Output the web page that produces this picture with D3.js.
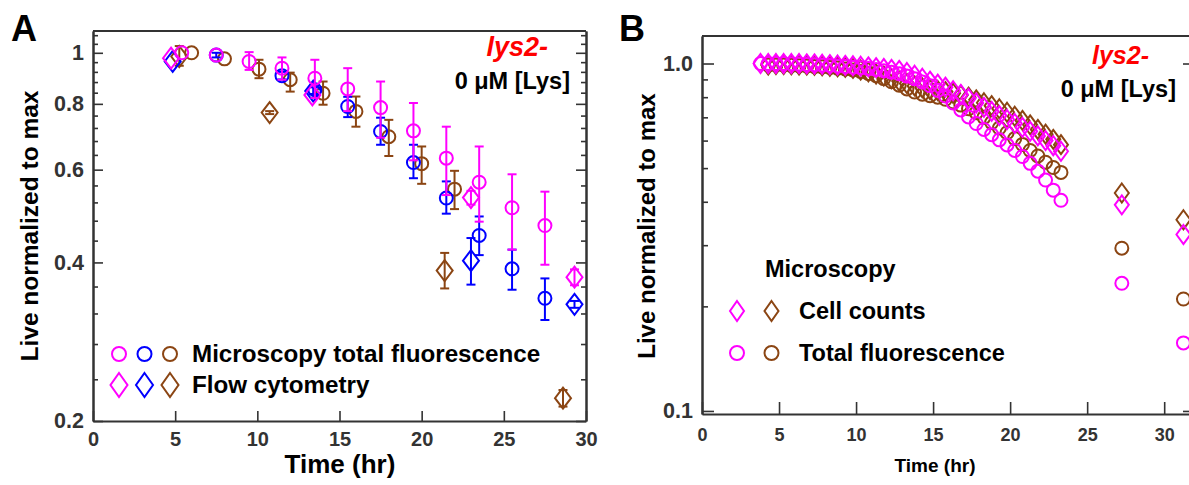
<!DOCTYPE html>
<html>
<head>
<meta charset="utf-8">
<script src="https://cdn.jsdelivr.net/npm/d3@7"></script>
<style>
  body { margin: 0; background: #fff; }
  svg { display: block; }
  text { font-family: "Liberation Sans", Arial, Helvetica, sans-serif; font-weight: bold; }
</style>
</head>
<body>
<svg id="chart" width="1189" height="485"></svg>
<script>
// ---------------- Panel A data: mean and error range per time point ----------------
const aMicroMagentaT  = [5.4, 7.5, 9.5, 11.5, 13.5, 15.5, 17.5, 19.5, 21.5, 23.5, 25.5, 27.5];
const aMicroMagentaV  = [1.0, 0.99, 0.963, 0.935, 0.895, 0.854, 0.787, 0.711, 0.631, 0.568, 0.508, 0.470];
const aMicroMagentaLo = [1.0, 0.99, 0.928, 0.889, 0.821, 0.775, 0.690, 0.625, 0.537, 0.478, 0.423, 0.396];
const aMicroMagentaHi = [1.0, 0.99, 1.003, 0.980, 0.970, 0.935, 0.882, 0.803, 0.724, 0.664, 0.588, 0.545];

const aMicroBlueT  = [7.5, 11.5, 13.5, 15.5, 17.5, 19.5, 21.5, 23.5, 25.5, 27.5];
const aMicroBlueV  = [0.99, 0.905, 0.851, 0.791, 0.709, 0.619, 0.530, 0.450, 0.389, 0.342];
const aMicroBlueLo = [0.98, 0.890, 0.835, 0.755, 0.669, 0.578, 0.495, 0.413, 0.355, 0.311];
const aMicroBlueHi = [1.00, 0.920, 0.867, 0.825, 0.753, 0.669, 0.570, 0.489, 0.423, 0.373];

const aMicroBrownT  = [6.0, 8.0, 10.1, 12.0, 14.0, 16.0, 18.0, 20.0, 22.0];
const aMicroBrownV  = [1.0, 0.974, 0.931, 0.889, 0.838, 0.774, 0.693, 0.616, 0.551];
const aMicroBrownLo = [1.0, 0.974, 0.895, 0.844, 0.797, 0.724, 0.637, 0.564, 0.505];
const aMicroBrownHi = [1.0, 0.974, 0.970, 0.917, 0.882, 0.826, 0.746, 0.664, 0.597];

const aFlowMagentaT  = [4.75, 13.35, 23.0, 29.3];
const aFlowMagentaV  = [0.977, 0.832, 0.531, 0.375];
const aFlowMagentaLo = [0.977, 0.832, 0.515, 0.362];
const aFlowMagentaHi = [0.977, 0.832, 0.547, 0.388];

const aFlowBlueT  = [4.85, 13.4, 23.0, 29.3];
const aFlowBlueV  = [0.963, 0.846, 0.403, 0.333];
const aFlowBlueLo = [0.963, 0.835, 0.363, 0.328];
const aFlowBlueHi = [0.963, 0.860, 0.445, 0.338];

const aFlowBrownT  = [5.25, 10.75, 21.4, 28.6];
const aFlowBrownV  = [0.984, 0.770, 0.386, 0.221];
const aFlowBrownLo = [0.945, 0.765, 0.357, 0.213];
const aFlowBrownHi = [1.030, 0.775, 0.417, 0.229];

const aXTicks = [0, 5, 10, 15, 20, 25, 30];
const aYTicks = [0.2, 0.4, 0.6, 0.8, 1];
const aYMinorTicks = [0.24, 0.28, 0.32, 0.36, 0.44, 0.48, 0.52, 0.56, 0.64, 0.68, 0.72, 0.76,
                      0.84, 0.88, 0.92, 0.96, 1.04, 1.08];

// ---------------- Panel B data: time courses from microscopy ----------------
const bTimeMagenta = [3.8, 4.3, 4.8, 5.3, 5.8, 6.3, 6.8, 7.3, 7.8, 8.3, 8.8, 9.3, 9.8, 10.3,
  10.8, 11.3, 11.8, 12.3, 12.8, 13.3, 13.8, 14.3, 14.8, 15.3, 15.8, 16.3, 16.8, 17.3, 17.8,
  18.3, 18.8, 19.3, 19.8, 20.3, 20.8, 21.3, 21.8, 22.3, 22.8, 23.3, 27.25, 31.25];
const bCountsMagenta = [1.0, 1.0, 1.0, 1.0, 1.0, 1.0, 0.998, 0.997, 0.995, 0.993, 0.99, 0.988,
  0.985, 0.982, 0.978, 0.973, 0.968, 0.962, 0.955, 0.942, 0.925, 0.907, 0.89, 0.872, 0.855,
  0.835, 0.815, 0.793, 0.77, 0.748, 0.728, 0.708, 0.69, 0.672, 0.655, 0.638, 0.619, 0.60,
  0.58, 0.559, 0.392, 0.322];
const bFluorMagenta = [1.0, 1.0, 1.0, 1.0, 0.998, 0.996, 0.994, 0.992, 0.99, 0.987, 0.984, 0.98,
  0.976, 0.972, 0.967, 0.961, 0.953, 0.944, 0.934, 0.92, 0.904, 0.885, 0.863, 0.837, 0.806,
  0.77, 0.735, 0.702, 0.672, 0.646, 0.624, 0.603, 0.583, 0.562, 0.54, 0.516, 0.49, 0.462,
  0.432, 0.404, 0.233, 0.157];

const bTimeBrown = [4.3, 4.8, 5.3, 5.8, 6.3, 6.8, 7.3, 7.8, 8.3, 8.8, 9.3, 9.8, 10.3, 10.8,
  11.3, 11.8, 12.3, 12.8, 13.3, 13.8, 14.3, 14.8, 15.3, 15.8, 16.3, 16.8, 17.3, 17.8, 18.3,
  18.8, 19.3, 19.8, 20.3, 20.8, 21.3, 21.8, 22.3, 22.8, 23.3, 27.25, 31.25];
const bCountsBrown = [0.99, 0.993, 0.993, 0.992, 0.99, 0.99, 0.988, 0.985, 0.982, 0.979, 0.975,
  0.968, 0.958, 0.946, 0.933, 0.92, 0.905, 0.89, 0.876, 0.862, 0.851, 0.842, 0.836, 0.83,
  0.821, 0.811, 0.80, 0.786, 0.771, 0.756, 0.741, 0.724, 0.705, 0.686, 0.666, 0.646, 0.626,
  0.605, 0.584, 0.424, 0.355];
const bFluorBrown = [0.99, 0.99, 0.99, 0.988, 0.986, 0.984, 0.981, 0.978, 0.974, 0.97, 0.965,
  0.958, 0.948, 0.936, 0.922, 0.905, 0.886, 0.866, 0.845, 0.828, 0.816, 0.808, 0.80, 0.789,
  0.775, 0.759, 0.741, 0.722, 0.70, 0.676, 0.652, 0.632, 0.608, 0.585, 0.562, 0.542, 0.52,
  0.502, 0.486, 0.294, 0.21];

const bXTicks = [0, 5, 10, 15, 20, 25, 30];
const bYTicks = [0.1, 1.0];
const bYMinorTicks = [0.2, 0.3, 0.4, 0.5, 0.6, 0.7, 0.8, 0.9];

// ---------------- shared styling ----------------
const MAGENTA = "#ff00ff", BLUE = "#0000ff", BROWN = "#8b4513", AXIS = "#333333";
const FONT = '"Liberation Sans", Arial, Helvetica, sans-serif';

const svg = d3.select("#chart");

function diamondPath(w, h) {
  return `M0,${-h}L${w},0L0,${h}L${-w},0Z`;
}

function styleAxis(g, fontSize) {
  g.attr("font-family", FONT).attr("font-size", fontSize).attr("font-weight", "bold");
  g.selectAll(".domain").attr("stroke", AXIS).attr("stroke-width", 2);
  g.selectAll(".tick line").attr("stroke", AXIS).attr("stroke-width", 1.6);
  g.selectAll(".tick text").attr("fill", "#333");
}

// Draws the boxed frame with inward ticks on left/right/bottom.
function drawFrame(g, x, y, opt) {
  const [x0, x1] = x.range();
  const [yb, yt] = y.range();
  const bottom = g.append("g").attr("transform", `translate(0,${yb})`)
    .call(d3.axisBottom(x).tickValues(opt.xTicks).tickSize(-opt.major).tickSizeOuter(0)
      .tickPadding(opt.xPad).tickFormat(d3.format("d")));
  styleAxis(bottom, opt.xFont);

  const left = g.append("g").attr("transform", `translate(${x0},0)`)
    .call(d3.axisLeft(y).tickValues(opt.yTicks).tickSize(-opt.major).tickSizeOuter(0)
      .tickPadding(opt.yPad).tickFormat(opt.yFormat));
  styleAxis(left, opt.yFont);
  const leftMinor = g.append("g").attr("transform", `translate(${x0},0)`)
    .call(d3.axisLeft(y).tickValues(opt.yMinor).tickSize(-opt.minor).tickSizeOuter(0).tickFormat(""));
  styleAxis(leftMinor, opt.yFont);

  const right = g.append("g").attr("transform", `translate(${x1},0)`)
    .call(d3.axisRight(y).tickValues(opt.yTicks).tickSize(-opt.major).tickSizeOuter(0).tickFormat(""));
  styleAxis(right, opt.yFont);
  const rightMinor = g.append("g").attr("transform", `translate(${x1},0)`)
    .call(d3.axisRight(y).tickValues(opt.yMinor).tickSize(-opt.minor).tickSizeOuter(0).tickFormat(""));
  styleAxis(rightMinor, opt.yFont);

  g.append("line").attr("x1", x0).attr("x2", x1).attr("y1", yt).attr("y2", yt)
    .attr("stroke", AXIS).attr("stroke-width", 2);
}

function zipSeries(t, v, lo, hi) {
  return t.map((d, i) => ({ t: d, v: v[i], lo: lo ? lo[i] : v[i], hi: hi ? hi[i] : v[i] }));
}

function drawErrorBars(g, data, x, y, color) {
  const cap = 4.5;
  const eb = g.append("g").attr("stroke", color).attr("stroke-width", 2).attr("fill", "none");
  data.filter(d => d.hi - d.lo > 0.001).forEach(d => {
    const cx = x(d.t), ylo = y(d.lo), yhi = y(d.hi);
    eb.append("line").attr("x1", cx).attr("x2", cx).attr("y1", ylo).attr("y2", yhi);
    eb.append("line").attr("x1", cx - cap).attr("x2", cx + cap).attr("y1", ylo).attr("y2", ylo);
    eb.append("line").attr("x1", cx - cap).attr("x2", cx + cap).attr("y1", yhi).attr("y2", yhi);
  });
}

function drawCircles(g, data, x, y, color, r) {
  g.append("g").selectAll("circle").data(data).join("circle")
    .attr("cx", d => x(d.t)).attr("cy", d => y(d.v)).attr("r", r)
    .attr("fill", "none").attr("stroke", color).attr("stroke-width", 2);
}

function drawDiamonds(g, data, x, y, color, w, h) {
  g.append("g").selectAll("path").data(data).join("path")
    .attr("transform", d => `translate(${x(d.t)},${y(d.v)})`)
    .attr("d", diamondPath(w, h))
    .attr("fill", "none").attr("stroke", color).attr("stroke-width", 2);
}

function addText(g, str, x, y, size, opts = {}) {
  const t = g.append("text").attr("x", x).attr("y", y).attr("font-size", size)
    .attr("font-family", FONT).attr("font-weight", "bold")
    .attr("fill", opts.fill || "#000").attr("text-anchor", opts.anchor || "start")
    .text(str);
  if (opts.italic) t.attr("font-style", "italic");
  if (opts.rotate) t.attr("transform", `rotate(-90,${x},${y})`);
  return t;
}

// ================= Panel A =================
{
  const g = svg.append("g");
  const x = d3.scaleLinear().domain([0, 30]).range([93, 586]);
  const y = d3.scaleLog().domain([0.2, 1.1]).range([421, 31]);

  drawFrame(g, x, y, {
    xTicks: aXTicks, yTicks: aYTicks, yMinor: aYMinorTicks,
    major: 10, minor: 5, xPad: 11, yPad: 9, xFont: 20, yFont: 21.5,
    yFormat: d => (d === 1 ? "1" : d3.format(".1f")(d))
  });

  const series = [
    { kind: "d", c: BROWN,   d: zipSeries(aFlowBrownT, aFlowBrownV, aFlowBrownLo, aFlowBrownHi) },
    { kind: "o", c: BROWN,   d: zipSeries(aMicroBrownT, aMicroBrownV, aMicroBrownLo, aMicroBrownHi) },
    { kind: "d", c: BLUE,    d: zipSeries(aFlowBlueT, aFlowBlueV, aFlowBlueLo, aFlowBlueHi) },
    { kind: "o", c: BLUE,    d: zipSeries(aMicroBlueT, aMicroBlueV, aMicroBlueLo, aMicroBlueHi) },
    { kind: "d", c: MAGENTA, d: zipSeries(aFlowMagentaT, aFlowMagentaV, aFlowMagentaLo, aFlowMagentaHi) },
    { kind: "o", c: MAGENTA, d: zipSeries(aMicroMagentaT, aMicroMagentaV, aMicroMagentaLo, aMicroMagentaHi) }
  ];
  series.forEach(s => {
    drawErrorBars(g, s.d, x, y, s.c);
    if (s.kind === "o") drawCircles(g, s.d, x, y, s.c, 6.5);
    else drawDiamonds(g, s.d, x, y, s.c, 8, 10.5);
  });

  // legend
  const lg = g.append("g");
  [MAGENTA, BLUE, BROWN].forEach((c, i) => {
    const lx = 119 + i * 25.5;
    lg.append("circle").attr("cx", lx).attr("cy", 354).attr("r", 7)
      .attr("fill", "none").attr("stroke", c).attr("stroke-width", 2);
    lg.append("path").attr("transform", `translate(${lx},385)`).attr("d", diamondPath(8.5, 12))
      .attr("fill", "none").attr("stroke", c).attr("stroke-width", 2);
  });
  addText(lg, "Microscopy total fluorescence", 192, 362, 24.2);
  addText(lg, "Flow cytometry", 192, 393, 24.2);

  addText(g, "lys2-", 548, 56, 27, { fill: "#ff0000", italic: true, anchor: "end" });
  addText(g, "0 μM [Lys]", 570, 89, 23.5, { anchor: "end" });

  addText(g, "Time (hr)", 340, 473, 26, { anchor: "middle" });
  addText(g, "Live normalized to max", 38, 226, 24.5, { anchor: "middle", rotate: true });
  addText(g, "A", 11, 41, 36);
}

// ================= Panel B =================
{
  const g = svg.append("g");
  const x = d3.scaleLinear().domain([0, 32]).range([702, 1195]);
  const y = d3.scaleLog().domain([0.098, 1.2]).range([414, 36]);

  drawFrame(g, x, y, {
    xTicks: bXTicks, yTicks: bYTicks, yMinor: bYMinorTicks,
    major: 12, minor: 6, xPad: 14, yPad: 9, xFont: 18, yFont: 21.5,
    yFormat: d3.format(".1f")
  });

  const fluorBrown = zipSeries(bTimeBrown, bFluorBrown);
  const countsBrown = zipSeries(bTimeBrown, bCountsBrown);
  const fluorMagenta = zipSeries(bTimeMagenta, bFluorMagenta);
  const countsMagenta = zipSeries(bTimeMagenta, bCountsMagenta);

  drawCircles(g, fluorBrown, x, y, BROWN, 6.5);
  drawDiamonds(g, countsBrown, x, y, BROWN, 7, 9.5);
  drawCircles(g, fluorMagenta, x, y, MAGENTA, 6.5);
  drawDiamonds(g, countsMagenta, x, y, MAGENTA, 7, 9.5);

  // legend
  const lg = g.append("g");
  addText(lg, "Microscopy", 765, 277, 23.5);
  [MAGENTA, BROWN].forEach((c, i) => {
    const lx = 737 + i * 34.5;
    lg.append("path").attr("transform", `translate(${lx},311)`).attr("d", diamondPath(7, 10))
      .attr("fill", "none").attr("stroke", c).attr("stroke-width", 2);
    lg.append("circle").attr("cx", lx).attr("cy", 353).attr("r", 7)
      .attr("fill", "none").attr("stroke", c).attr("stroke-width", 2);
  });
  addText(lg, "Cell counts", 799, 319, 23.5);
  addText(lg, "Total fluorescence", 799, 361, 23.5);

  addText(g, "lys2-", 1149, 64, 25, { fill: "#ff0000", italic: true, anchor: "end" });
  addText(g, "0 μM [Lys]", 1176, 97, 23.5, { anchor: "end" });

  addText(g, "Time (hr)", 935, 472, 19, { anchor: "middle" });
  addText(g, "Live normalized to max", 655, 226, 24, { anchor: "middle", rotate: true });
  addText(g, "B", 619, 41, 36);
}
</script>
</body>
</html>
